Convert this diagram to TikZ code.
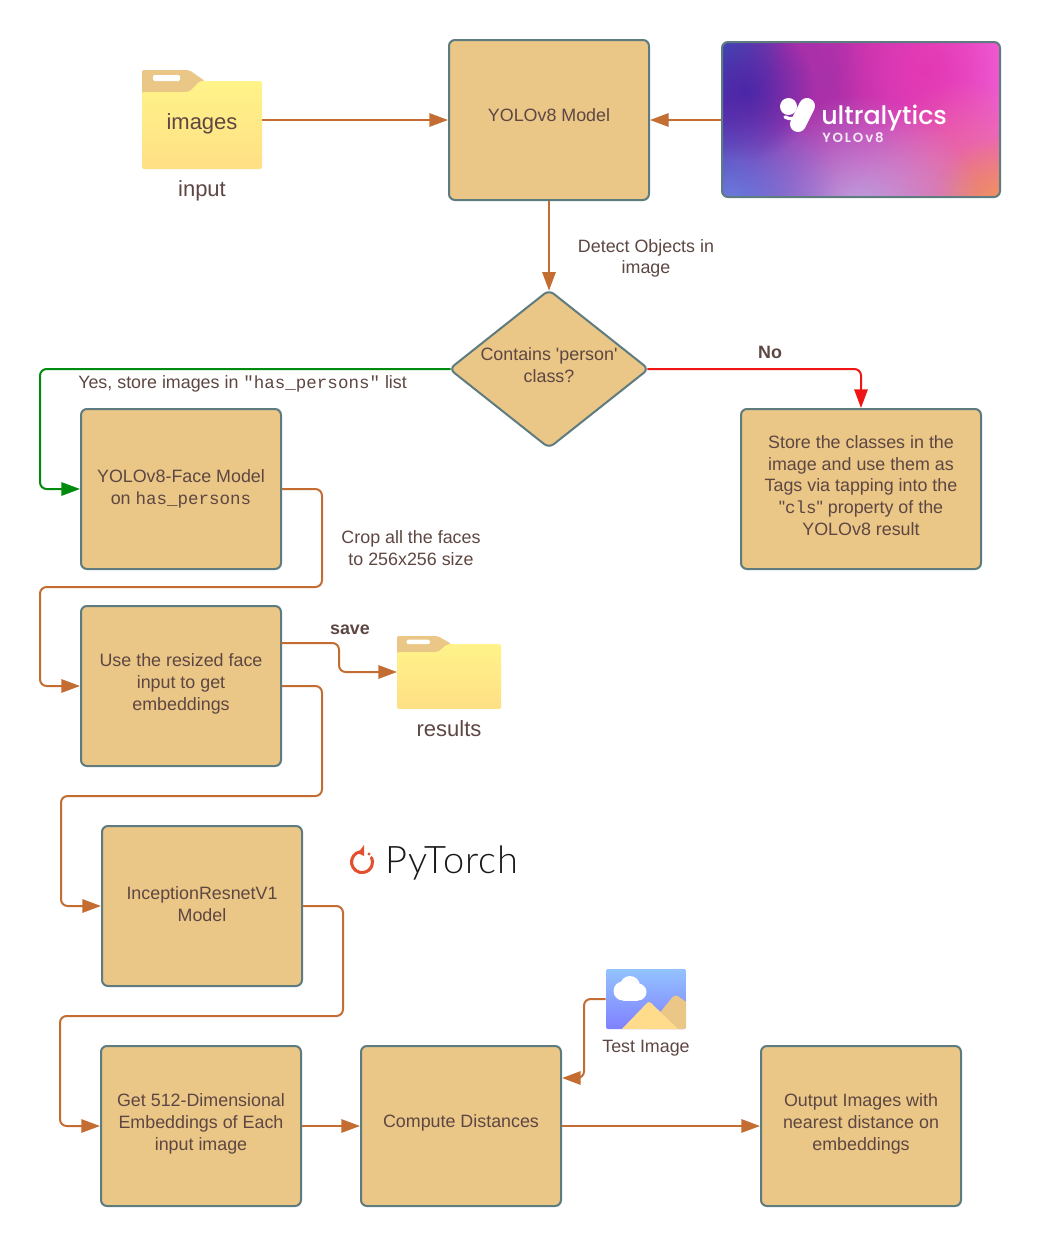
\documentclass[tikz,border=0pt]{standalone}
\usepackage{fontspec}
\setmainfont{Liberation Sans}[Ligatures=TeXOff]
\setmonofont[Scale=0.98,Ligatures=TeXOff]{Liberation Mono}
\newfontfamily\ptfont{Lato Light}
\newfontfamily\ulfont{Poppins Medium}
\newfontfamily\ulbfont{Poppins SemiBold}
\usetikzlibrary{arrows.meta,shapes.geometric,fadings}
\definecolor{boxfill}{HTML}{EAC687}
\definecolor{boxline}{HTML}{5E7B80}
\definecolor{txt}{HTML}{5E4742}
\definecolor{conn}{HTML}{C46D32}
\definecolor{okgreen}{HTML}{008A0E}
\definecolor{nored}{HTML}{EF1515}
\definecolor{folderTop}{HTML}{FFF389}
\definecolor{folderBot}{HTML}{FFDF85}
\definecolor{iconTop}{HTML}{93C3FF}
\definecolor{iconBot}{HTML}{8080FF}
\definecolor{iconHill}{HTML}{FFDC8C}
\definecolor{ptRed}{HTML}{E4502F}
\definecolor{ulA}{HTML}{4A28A8}
\definecolor{ulB}{HTML}{A830A8}
\definecolor{ulC}{HTML}{E438B4}
\definecolor{ulD}{HTML}{F060D8}
\definecolor{ulE}{HTML}{E87090}
\definecolor{ulF}{HTML}{F09858}
\definecolor{ulG}{HTML}{B8A8E0}
\definecolor{ulH}{HTML}{6E80E0}
\definecolor{ulI}{HTML}{3A58B8}
\tikzfading[name=softdot,inner color=transparent!0,outer color=transparent!100]
\tikzset{
  stdfont/.style={font=\fontsize{13.4}{16.3}\selectfont,text=txt,align=center},
  bigfont/.style={font=\fontsize{16.5}{20}\selectfont,text=txt,align=center},
  procbox/.style={draw=boxline,fill=boxfill,line width=1.5pt,rounded corners=4.5pt,
    minimum width=150pt,minimum height=120pt,inner sep=0pt,stdfont},
  wirebase/.style={line width=1.5pt,rounded corners=5pt,-{Triangle[length=14pt,width=10pt]}},
  wire/.style={wirebase,draw=conn,conn},
  lbl/.style={stdfont,inner sep=0pt},
  folder/.pic={
    \fill[boxfill,rounded corners=1.5pt] (0,24) -- (0,0) -- (47,0) -- (63,11) -- (63,24) -- cycle;
    \fill[white,rounded corners=1pt] (11,5) rectangle (38,11);
    \shade[top color=folderTop,bottom color=folderBot,rounded corners=1.5pt]
      (0,99) -- (0,22) -- (47,22) -- (58,11) -- (120,11) -- (120,99) -- cycle;
  }
}
\begin{document}
\begin{tikzpicture}[x=0.75pt,y=-0.75pt]
\useasboundingbox (0,0) rectangle (1040,1246);
\fill[white] (0,0) rectangle (1040,1246);

% folders
\pic at (142,70) {folder};
\pic[xscale=0.867,yscale=0.737] at (397,636) {folder};
\coordinate (inR) at (262,120);
\coordinate (resL) at (397,672);
\node[bigfont,inner sep=0pt] (imagesT) at (202,124) {images};
\node[bigfont,inner sep=0pt] (inputT) at (202,191) {input};
\node[bigfont,inner sep=0pt] (resultsT) at (449,729) {results};

% ultralytics card
\begin{scope}
  \clip[rounded corners=4.5pt] (722,42) rectangle (1000,197);
  \shade[left color=ulA,right color=ulD,middle color=ulC] (722,42) rectangle (1000,197);
  \fill[ulB,path fading=softdot] (820,80) circle (130);
  \fill[ulC,path fading=softdot] (925,70) circle (90);
  \fill[ulE,path fading=softdot] (970,190) circle (110);
  \fill[ulF,path fading=softdot] (1005,205) circle (70);
  \fill[ulG,path fading=softdot] (860,215) circle (120);
  \fill[ulH,path fading=softdot] (730,205) circle (110);
  \fill[ulI,path fading=softdot] (715,40) circle (70);
  \fill[ulA,path fading=softdot] (745,90) circle (70);
\end{scope}
\fill[white] (788.5,106.5) circle (8.5);
\draw[white,line width=12pt,line cap=round,line join=round] (807,106) -- (798,124);
\draw[white,line width=2.5pt,line cap=round] (785,117) .. controls (790,120) and (796,119) .. (800,115);
\node[font=\ulfont\fontsize{19}{20}\selectfont,text=white,anchor=base west,inner sep=0pt] (ulT) at (821,124) {ultralytics};
\node[font=\ulbfont\fontsize{10}{12}\selectfont\addfontfeature{LetterSpace=14},text=white!90!ulB,anchor=base west,inner sep=0pt] (ulY) at (822,142) {YOLOv8};

% boxes
\node[draw=boxline,line width=1.5pt,rounded corners=4.5pt,minimum width=208.5pt,minimum height=116.25pt,inner sep=0pt] (ultra) at (861,119.5) {};
\node[procbox,text depth=7.5pt] (yolo) at (549,120) {YOLOv8 Model};
\node[procbox,shape=diamond,aspect=1.26,minimum width=150pt,minimum height=119pt,text depth=6pt] (dia) at (549,369) {Contains 'person'\\class?};
\node[procbox] (face) at (181,489) {YOLOv8-Face Model\\on \texttt{has\_persons}};
\node[procbox,minimum width=180pt,text depth=5.5pt] (store) at (861,489) {Store the classes in the\\image and use them as\\Tags via tapping into the\\"\texttt{cls}" property of the\\YOLOv8 result};
\node[procbox,text depth=5.7pt] (emb) at (181,686) {Use the resized face\\input to get\\embeddings};
\node[procbox,text depth=3pt] (incep) at (202,906) {InceptionResnetV1\\Model};
\node[procbox,text depth=5.7pt] (get) at (201,1126) {Get 512-Dimensional\\Embeddings of Each\\input image};
\node[procbox,text depth=7.2pt] (comp) at (461,1126) {Compute Distances};
\node[procbox,text depth=5.7pt] (out) at (861,1126) {Output Images with\\nearest distance on\\embeddings};

% test image icon
\begin{scope}
  \clip[rounded corners=1.5pt] (606,969) rectangle (686,1029);
  \shade[top color=iconTop,bottom color=iconBot] (606,969) rectangle (686,1029);
  \fill[boxfill,rounded corners=3pt] (645,1031) -- (675,994) -- (700,1012) -- (700,1031) -- cycle;
  \fill[iconHill,rounded corners=2pt] (620,1031) -- (649,1001) -- (680,1031) -- cycle;
\end{scope}
\fill[white] (623,991) circle (9.5);
\fill[white] (630,986) circle (10);
\fill[white] (638,992) circle (8.5);
\fill[white] (623,991) rectangle (638,1001);
\node[draw=none,inner sep=0pt,minimum width=60pt,minimum height=45pt] (icon) at (646,999) {};
\node[lbl] (testT) at (646,1048) {Test Image};

% pytorch logo
\draw[ptRed,line width=2.3pt,line cap=round] (360.2,851.7) arc[start angle=-100,end angle=-385,radius=10.5];
\fill[ptRed] (364,845) -- (358,853) -- (364,856) -- cycle;
\fill[ptRed] (369,854) circle (1.7);
\node[font=\ptfont\fontsize{28.5}{30}\selectfont\addfontfeature{LetterSpace=2.5},text=black!90,anchor=base west,inner sep=0pt] (ptT) at (385,873) {PyTorch};

% connectors
\draw[wire] (inR) -- (yolo.west);
\draw[wire] (ultra.west|-yolo.east) -- (yolo.east);
\draw[wire] (yolo.south) -- ([yshift=-1.5pt]dia.north);
\draw[wirebase,draw=nored,nored] ([xshift=-2pt]dia.east) -| (store.north);
\draw[wirebase,draw=okgreen,okgreen] ([xshift=2pt]dia.west) -- (40,369) -- (40,489) -- (face.west);
\draw[wire] (face.east) -- (322,489) -- (322,587) -- (40,587) -- (40,686) -- (emb.west);
\draw[wire] (281,643) -- (339,643) -- (339,672) -- (resL);
\draw[wire] (emb.east) -- (322,686) -- (322,796) -- (61,796) -- (61,906) -- (incep.west);
\draw[wire] (incep.east) -- (343,906) -- (343,1016) -- (60,1016) -- (60,1126) -- (get.west);
\draw[wire] (get.east) -- (comp.west);
\draw[wire] (comp.east) -- (out.west);
\draw[wire] (icon.west) -- (584,999) -- (584,1078) -- (562,1078);

% labels
\node[lbl] (detectT) at (646,258.5) {Detect Objects in\\image};
\node[lbl,font=\fontsize{13.4}{16.3}\selectfont\bfseries] (noT) at (770,352) {No};
\node[lbl,anchor=base west] (yesT) at (78,388) {Yes, store images in \texttt{"has\_persons"} list};
\node[lbl] (cropT) at (411,548) {Crop all the faces\\to 256x256 size};
\node[lbl,font=\fontsize{13.4}{16.3}\selectfont\bfseries] (saveT) at (350,630) {save};
\end{tikzpicture}
\end{document}
